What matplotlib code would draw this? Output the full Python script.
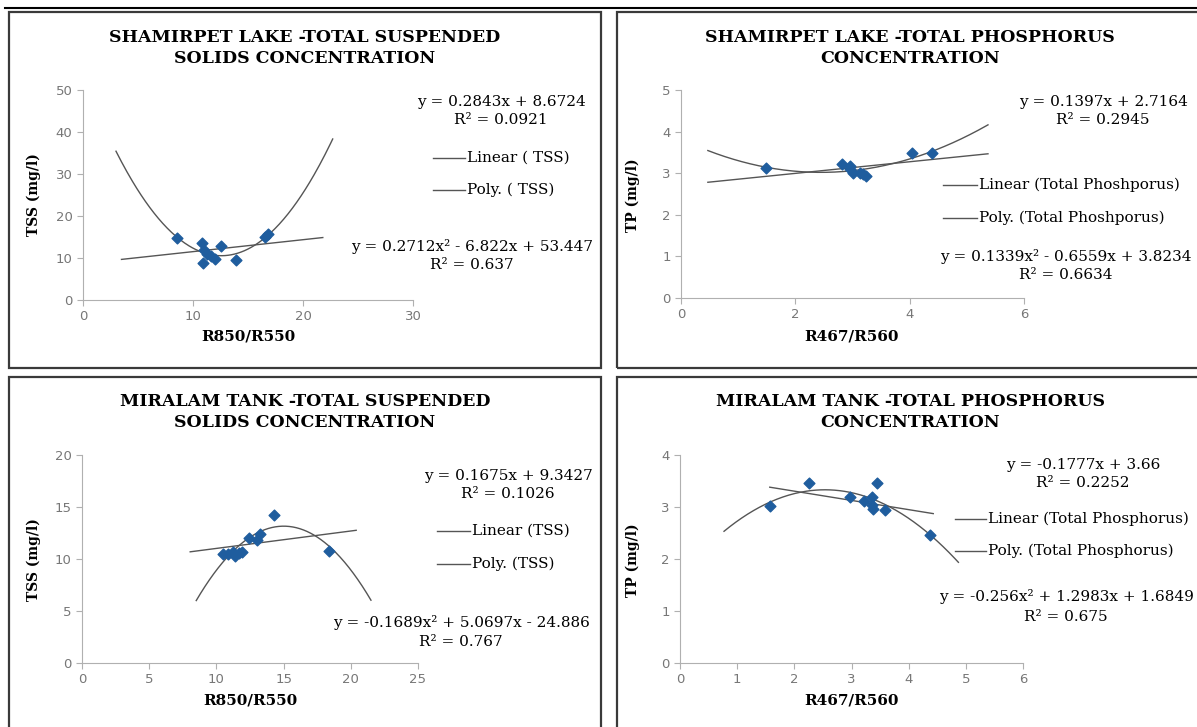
import numpy as np
import matplotlib.pyplot as plt
from matplotlib.patches import Rectangle
from matplotlib.lines import Line2D

W, H = 1197, 727

# ---- data ----
# Shamirpet lake, TSS vs R850/R550
sl_tss_x = [8.5, 10.8, 10.9, 11.0, 11.3, 11.6, 12.0, 12.5, 13.9, 16.5, 16.8]
sl_tss_y = [14.8, 13.5, 8.8, 11.8, 11.0, 10.5, 9.8, 12.9, 9.6, 15.0, 15.7]
sl_tss_lin = [0.2843, 8.6724]
sl_tss_poly = [0.2712, -6.822, 53.447]

# Shamirpet lake, TP vs R467/R560
sl_tp_x = [1.48, 2.82, 2.95, 2.95, 3.01, 3.13, 3.19, 3.23, 4.04, 4.39]
sl_tp_y = [3.12, 3.22, 3.18, 3.09, 3.01, 3.01, 2.97, 2.93, 3.49, 3.49]
sl_tp_lin = [0.1397, 2.7164]
sl_tp_poly = [0.1339, -0.6559, 3.8234]

# Miralam tank, TSS vs R850/R550
mt_tss_x = [10.5, 10.9, 11.2, 11.4, 11.7, 11.9, 12.4, 13.0, 13.25, 14.3, 18.4]
mt_tss_y = [10.45, 10.45, 10.7, 10.3, 10.55, 10.7, 12.05, 11.8, 12.45, 14.2, 10.75]
mt_tss_lin = [0.1675, 9.3427]
mt_tss_poly = [-0.1689, 5.0697, -24.886]

# Miralam tank, TP vs R467/R560
mt_tp_x = [1.57, 2.26, 2.98, 3.22, 3.36, 3.36, 3.38, 3.45, 3.58, 4.38]
mt_tp_y = [3.01, 3.46, 3.20, 3.12, 3.19, 3.04, 2.96, 3.47, 2.94, 2.46]
mt_tp_lin = [-0.1777, 3.66]
mt_tp_poly = [-0.256, 1.2983, 1.6849]

fig = plt.figure(figsize=(W / 100, H / 100), dpi=100)

SERIF = 'DejaVu Serif'
LINE = '#555555'
BLUE = '#1f5d9e'
EQ = 11  # size of the trendline labels


def fx(x):
    return x / W


def fy(y):
    return 1 - y / H


def ftext(x, y, s, **kw):
    kw.setdefault('family', SERIF)
    kw.setdefault('ha', 'center')
    kw.setdefault('va', 'center')
    fig.text(fx(x), fy(y), s, **kw)


def legend_line(x0, x1, y):
    fig.add_artist(Line2D([fx(x0), fx(x1)], [fy(y), fy(y)], color=LINE, lw=1))


def panel(box, ax_px, xs, ys, lin, lin_rng, poly, poly_rng, xmax, xstep, ymax, ystep):
    bx0, by0, bx1, by1 = box
    fig.add_artist(Rectangle((fx(bx0), fy(by1)), fx(bx1 - bx0), (by1 - by0) / H,
                             fill=False, edgecolor='#3a3a3a', lw=1.6))
    x0, x1, y0, y1 = ax_px
    ax = fig.add_axes([fx(x0), fy(y0), fx(x1 - x0), (y0 - y1) / H])
    ax.set_xlim(0, xmax)
    ax.set_ylim(0, ymax)
    ax.set_xticks(np.arange(0, xmax + 0.01, xstep))
    ax.set_yticks(np.arange(0, ymax + 0.01, ystep))
    for side in ['top', 'right']:
        ax.spines[side].set_visible(False)
    for side in ['left', 'bottom']:
        ax.spines[side].set_color('#b0b0b0')
    ax.tick_params(colors='#b0b0b0', labelcolor='#777777', labelsize=9.5,
                   direction='out', length=4)
    ax.patch.set_alpha(0)

    lx = np.linspace(*lin_rng, 50)
    ax.plot(lx, np.polyval(lin, lx), color=LINE, lw=1, clip_on=False)
    px_ = np.linspace(*poly_rng, 200)
    ax.plot(px_, np.polyval(poly, px_), color=LINE, lw=1, clip_on=False)
    ax.scatter(xs, ys, marker='D', s=30, color=BLUE, zorder=3, clip_on=False)
    return ax


# top rule of the page
fig.add_artist(Line2D([fx(5), fx(1197)], [fy(7.5), fy(7.5)], color='black', lw=1.5))

# ---------- top-left ----------
panel((9, 12, 601, 368), (83, 413, 300, 90), sl_tss_x, sl_tss_y,
      sl_tss_lin, (3.5, 21.8), sl_tss_poly, (3.0, 22.7), 30, 10, 50, 10)
ftext(305, 48, 'SHAMIRPET LAKE -TOTAL SUSPENDED\nSOLIDS CONCENTRATION',
      fontsize=12.5, weight='bold', linespacing=1.25)
ftext(34, 195, 'TSS (mg/l)', fontsize=10, weight='bold', rotation=90)
ftext(248, 337, 'R850/R550', fontsize=11, weight='bold')
ftext(501, 102, 'y = 0.2843x + 8.6724', fontsize=EQ)
ftext(501, 120, 'R² = 0.0921', fontsize=EQ)
legend_line(433, 465, 158)
ftext(467, 158, 'Linear ( TSS)', fontsize=EQ, ha='left')
legend_line(433, 465, 190)
ftext(467, 190, 'Poly. ( TSS)', fontsize=EQ, ha='left')
ftext(472, 246, 'y = 0.2712x² - 6.822x + 53.447', fontsize=EQ)
ftext(472, 265, 'R² = 0.637', fontsize=EQ)

# ---------- top-right ----------
panel((617, 12, 1210, 368), (681, 1024, 298, 90), sl_tp_x, sl_tp_y,
      sl_tp_lin, (0.47, 5.37), sl_tp_poly, (0.47, 5.37), 6, 2, 5, 1)
ftext(910, 48, 'SHAMIRPET LAKE -TOTAL PHOSPHORUS\nCONCENTRATION',
      fontsize=12.5, weight='bold', linespacing=1.25)
ftext(633, 195, 'TP (mg/l)', fontsize=10, weight='bold', rotation=90)
ftext(852, 337, 'R467/R560', fontsize=11, weight='bold')
ftext(1103, 102, 'y = 0.1397x + 2.7164', fontsize=EQ)
ftext(1103, 120, 'R² = 0.2945', fontsize=EQ)
legend_line(943, 977, 185)
ftext(979, 185, 'Linear (Total Phoshporus)', fontsize=EQ, ha='left')
legend_line(943, 977, 218)
ftext(979, 218, 'Poly. (Total Phoshporus)', fontsize=EQ, ha='left')
ftext(1066, 256, 'y = 0.1339x² - 0.6559x + 3.8234', fontsize=EQ)
ftext(1066, 275, 'R² = 0.6634', fontsize=EQ)

# ---------- bottom-left ----------
panel((9, 377, 601, 740), (82, 418, 663, 455), mt_tss_x, mt_tss_y,
      mt_tss_lin, (8.05, 20.4), mt_tss_poly, (8.5, 21.5), 25, 5, 20, 5)
ftext(305, 412, 'MIRALAM TANK -TOTAL SUSPENDED\nSOLIDS CONCENTRATION',
      fontsize=12.5, weight='bold', linespacing=1.25)
ftext(34, 560, 'TSS (mg/l)', fontsize=10, weight='bold', rotation=90)
ftext(250, 700, 'R850/R550', fontsize=11, weight='bold')
ftext(508, 476, 'y = 0.1675x + 9.3427', fontsize=EQ)
ftext(508, 494, 'R² = 0.1026', fontsize=EQ)
legend_line(437, 470, 531)
ftext(472, 531, 'Linear (TSS)', fontsize=EQ, ha='left')
legend_line(437, 470, 564)
ftext(472, 564, 'Poly. (TSS)', fontsize=EQ, ha='left')
ftext(461, 623, 'y = -0.1689x² + 5.0697x - 24.886', fontsize=EQ)
ftext(461, 642, 'R² = 0.767', fontsize=EQ)

# ---------- bottom-right ----------
panel((617, 377, 1210, 740), (680, 1023, 663, 455), mt_tp_x, mt_tp_y,
      mt_tp_lin, (1.57, 4.43), mt_tp_poly, (0.77, 4.87), 6, 1, 4, 1)
ftext(910, 412, 'MIRALAM TANK -TOTAL PHOSPHORUS\nCONCENTRATION',
      fontsize=12.5, weight='bold', linespacing=1.25)
ftext(633, 560, 'TP (mg/l)', fontsize=10, weight='bold', rotation=90)
ftext(852, 700, 'R467/R560', fontsize=11, weight='bold')
ftext(1083, 465, 'y = -0.1777x + 3.66', fontsize=EQ)
ftext(1083, 483, 'R² = 0.2252', fontsize=EQ)
legend_line(955, 986, 519)
ftext(988, 519, 'Linear (Total Phosphorus)', fontsize=EQ, ha='left')
legend_line(955, 986, 551)
ftext(988, 551, 'Poly. (Total Phosphorus)', fontsize=EQ, ha='left')
ftext(1066, 597, 'y = -0.256x² + 1.2983x + 1.6849', fontsize=EQ)
ftext(1066, 617, 'R² = 0.675', fontsize=EQ)

plt.savefig('out.png', dpi=100)
